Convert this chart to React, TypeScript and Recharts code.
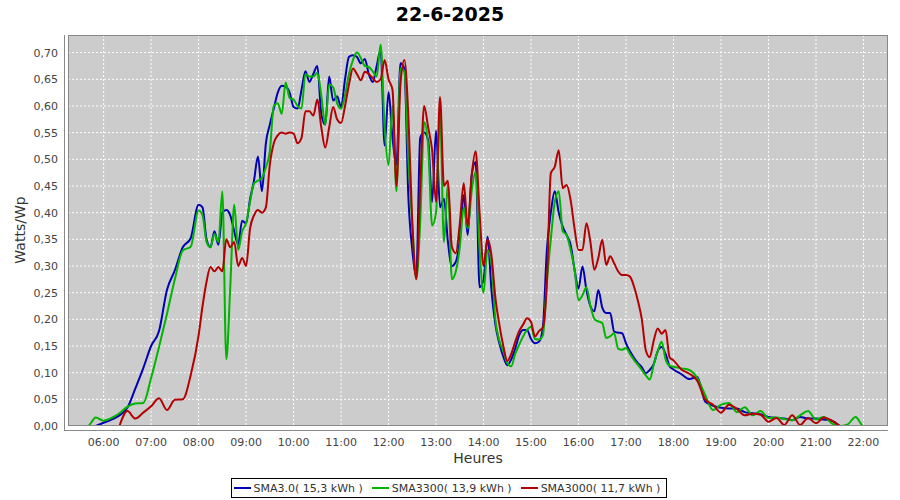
import { LineChart, Line, XAxis, YAxis, CartesianGrid } from "recharts";

// sample times (10 min in the morning/evening, 5 min during the busy part of the day)
const times = [
  "05:30", "05:40", "05:50", "06:00", "06:10", "06:20", "06:30", "06:40", "06:50", "07:00", "07:10", "07:20", "07:30", "07:40", "07:50",
  "08:00", "08:05", "08:10", "08:15", "08:20", "08:25", "08:30", "08:35", "08:40", "08:45", "08:50", "08:55",
  "09:00", "09:05", "09:10", "09:15", "09:20", "09:25", "09:30", "09:35", "09:40", "09:45", "09:50", "09:55",
  "10:00", "10:05", "10:10", "10:15", "10:20", "10:25", "10:30", "10:35", "10:40", "10:45", "10:50", "10:55",
  "11:00", "11:05", "11:10", "11:15", "11:20", "11:25", "11:30", "11:35", "11:40", "11:45", "11:50", "11:55",
  "12:00", "12:05", "12:10", "12:15", "12:20", "12:25", "12:30", "12:35", "12:40", "12:45", "12:50", "12:55",
  "13:00", "13:05", "13:10", "13:15", "13:20", "13:25", "13:30", "13:35", "13:40", "13:45", "13:50", "13:55",
  "14:00", "14:05", "14:10", "14:15", "14:20", "14:25", "14:30", "14:35", "14:40", "14:45", "14:50", "14:55",
  "15:00", "15:05", "15:10", "15:15", "15:20", "15:25", "15:30", "15:35", "15:40", "15:45", "15:50", "15:55",
  "16:00", "16:05", "16:10", "16:15", "16:20", "16:25", "16:30", "16:35", "16:40", "16:45", "16:50", "16:55",
  "17:00", "17:05", "17:10", "17:15", "17:20", "17:25", "17:30", "17:35", "17:40", "17:45", "17:50", "17:55",
  "18:00", "18:10", "18:20", "18:30", "18:40", "18:50",
  "19:00", "19:10", "19:20", "19:30", "19:40", "19:50",
  "20:00", "20:10", "20:20", "20:30", "20:40", "20:50",
  "21:00", "21:10", "21:20", "21:30", "21:40", "21:50",
  "22:00", "22:10",
];

const sma30 = [
  null, null, 0.0, 0.006, 0.012, 0.02, 0.034, 0.07, 0.108, 0.15, 0.178, 0.255, 0.292, 0.335, 0.352,
  0.415, 0.41, 0.35, 0.335, 0.365, 0.34, 0.4, 0.405, 0.395, 0.365, 0.34, 0.385,
  0.38, 0.425, 0.46, 0.505, 0.44, 0.53, 0.565, 0.595, 0.625, 0.638, 0.636, 0.625,
  0.598, 0.595, 0.63, 0.665, 0.645, 0.66, 0.675, 0.585, 0.565, 0.655, 0.61, 0.618,
  0.598, 0.65, 0.692, 0.695, 0.692, 0.68, 0.688, 0.66, 0.645, 0.675, 0.705, 0.526,
  0.626, 0.54, 0.49, 0.68, 0.67, 0.43, 0.33, 0.282, 0.54, 0.55, 0.536, 0.42,
  0.554, 0.41, 0.426, 0.345, 0.3, 0.308, 0.349, 0.433, 0.358, 0.47, 0.495, 0.26,
  0.274, 0.355, 0.255, 0.19, 0.155, 0.13, 0.114, 0.125, 0.145, 0.17, 0.18, 0.18,
  0.163, 0.155, 0.158, 0.185, 0.33, 0.4, 0.44, 0.4, 0.374, 0.358, 0.34, 0.293,
  0.258, 0.299, 0.255, 0.225, 0.215, 0.255, 0.222, 0.212, 0.212, 0.177, 0.175, 0.174,
  0.155, 0.14, 0.128, 0.118, 0.11, 0.099, 0.105, 0.116, 0.14, 0.148, 0.135, 0.112,
  0.106, 0.097, 0.088, 0.092, 0.046, 0.038,
  0.034, 0.033, 0.033, 0.026, 0.024, 0.022,
  0.017, 0.015, 0.014, 0.011, 0.017, 0.014,
  0.014, 0.012, 0.01, 0.0, null, null,
  null, null,
];

const sma3300 = [
  0.0, 0.0, 0.016, 0.01, 0.015, 0.024, 0.036, 0.042, 0.043, 0.09, 0.148, 0.21, 0.275, 0.329, 0.336,
  0.404, 0.395, 0.345, 0.335, 0.36, 0.345, 0.44, 0.125, 0.26, 0.415, 0.33, 0.365,
  0.38, 0.42, 0.455, 0.46, 0.465, 0.485, 0.515, 0.6, 0.605, 0.585, 0.644, 0.615,
  0.612, 0.6, 0.595, 0.66, 0.655, 0.655, 0.662, 0.62, 0.565, 0.64, 0.635, 0.605,
  0.595, 0.62, 0.66, 0.686, 0.7, 0.69, 0.675, 0.673, 0.665, 0.655, 0.715, 0.56,
  0.489, 0.6, 0.44, 0.67, 0.664, 0.5, 0.38, 0.276, 0.382, 0.57, 0.526, 0.376,
  0.4, 0.586, 0.345, 0.455, 0.275, 0.29, 0.335, 0.41, 0.37, 0.44, 0.477, 0.33,
  0.25, 0.33, 0.305, 0.199, 0.16, 0.14, 0.118, 0.112, 0.135, 0.152, 0.168, 0.18,
  0.186, 0.163, 0.162, 0.17, 0.27, 0.35, 0.42, 0.44, 0.365, 0.358, 0.33, 0.293,
  0.236, 0.245, 0.26, 0.225, 0.201, 0.196, 0.193, 0.165, 0.168, 0.174, 0.145, 0.143,
  0.146, 0.135, 0.124, 0.115, 0.105, 0.095, 0.087, 0.115, 0.14, 0.158, 0.125, 0.113,
  0.111, 0.108, 0.105, 0.09, 0.058, 0.03,
  0.04, 0.043, 0.026, 0.035, 0.02, 0.028,
  0.015, 0.016, 0.013, 0.011, 0.02, 0.028,
  0.012, 0.017, 0.005, 0.0, 0.003, 0.017,
  0.0, 0.0,
];

const sma3000 = [
  null, null, null, null, null, 0.0, 0.028, 0.014, 0.025, 0.037, 0.052, 0.03, 0.049, 0.05, 0.095,
  0.17, 0.225, 0.27, 0.298, 0.29, 0.298, 0.29, 0.35, 0.335, 0.345, 0.3, 0.315,
  0.3, 0.37, 0.395, 0.405, 0.4, 0.41, 0.49, 0.53, 0.545, 0.55, 0.548, 0.55,
  0.548, 0.53, 0.54, 0.59, 0.59, 0.582, 0.612, 0.56, 0.522, 0.56, 0.598, 0.575,
  0.568, 0.6, 0.64, 0.67, 0.66, 0.648, 0.664, 0.66, 0.652, 0.645, 0.65, 0.686,
  0.65, 0.63, 0.451, 0.64, 0.686, 0.582, 0.38, 0.275, 0.45, 0.6, 0.56, 0.517,
  0.42, 0.617, 0.45, 0.46, 0.336, 0.324, 0.38, 0.455, 0.374, 0.47, 0.515, 0.4,
  0.3, 0.35, 0.32, 0.24, 0.19, 0.15, 0.122, 0.135, 0.158, 0.178, 0.19, 0.202,
  0.195, 0.168, 0.178, 0.185, 0.267, 0.474, 0.486, 0.517, 0.446, 0.452, 0.424, 0.37,
  0.33, 0.33, 0.38, 0.345, 0.293, 0.315, 0.349, 0.302, 0.318, 0.305, 0.29, 0.283,
  0.283, 0.28, 0.262, 0.235, 0.2, 0.142, 0.129, 0.16, 0.183, 0.173, 0.18, 0.129,
  0.123, 0.106, 0.098, 0.085, 0.05, 0.04,
  0.025, 0.04, 0.032, 0.02, 0.023, 0.021,
  0.008, 0.015, 0.002, 0.02, 0.002, 0.015,
  0.005, 0.016, 0.01, 0.0, null, null,
  null, null,
];

const hourTicks = [
  "06:00", "07:00", "08:00", "09:00", "10:00", "11:00", "12:00", "13:00", "14:00",
  "15:00", "16:00", "17:00", "18:00", "19:00", "20:00", "21:00", "22:00",
];

const valueTicks = [0, 0.05, 0.1, 0.15, 0.2, 0.25, 0.3, 0.35, 0.4, 0.45, 0.5, 0.55, 0.6, 0.65, 0.7];

const series = [
  { key: "b", name: "SMA3.0( 15,3 kWh )", color: "#0000b4" },
  { key: "g", name: "SMA3300( 13,9 kWh )", color: "#00b400" },
  { key: "r", name: "SMA3000( 11,7 kWh )", color: "#b40000" },
];

const toMin = (s: string) => {
  const [h, m] = s.split(":").map(Number);
  return h * 60 + m;
};

const fmtTime = (v: number) => {
  const h = Math.floor(v / 60);
  const m = v % 60;
  return `${String(h).padStart(2, "0")}:${String(m).padStart(2, "0")}`;
};

const data = times.map((t, i) => ({
  t: toMin(t),
  b: sma30[i],
  g: sma3300[i],
  r: sma3000[i],
}));

const font = "'DejaVu Sans', sans-serif";

export default function App() {
  return (
    <div style={{ position: "absolute", left: 0, top: 0, width: 900, height: 500, background: "#fff", fontFamily: font }}>
      <div style={{ position: "absolute", left: 0, top: 2, width: 900, lineHeight: "24px", textAlign: "center", fontSize: 19, fontWeight: "bold", color: "#000" }}>
        22-6-2025
      </div>
      <LineChart width={900} height={500} data={data} margin={{ top: 35, right: 12, bottom: 44, left: 0 }}>
        <CartesianGrid stroke="#ffffff" strokeDasharray="2 2" fill="#cccccc" fillOpacity={1} />
        <XAxis
          dataKey="t"
          type="number"
          domain={[315, 1351]}
          allowDataOverflow
          ticks={hourTicks.map(toMin)}
          tickFormatter={fmtTime}
          height={30}
          axisLine={false}
          tickLine={false}
          tickSize={4}
          tickMargin={8}
          tick={{ fill: "#444", fontSize: 11, fontFamily: font }}
        />
        <YAxis
          type="number"
          domain={[0, 0.733]}
          allowDataOverflow
          ticks={valueTicks}
          tickFormatter={(v: number) => v.toFixed(2).replace(".", ",")}
          width={68}
          axisLine={false}
          tickLine={false}
          tickSize={4}
          tickMargin={6}
          tick={{ fill: "#444", fontSize: 11, fontFamily: font }}
        />
        {series.map((s) => (
          <Line
            key={s.key}
            type="monotone"
            dataKey={s.key}
            name={s.name}
            stroke={s.color}
            strokeWidth={2}
            dot={false}
            connectNulls={false}
            isAnimationActive={false}
          />
        ))}
      </LineChart>
      {/* plot outline and offset axis lines */}
      <div style={{ position: "absolute", left: 68, top: 35, width: 820, height: 391, border: "1px solid #888", boxSizing: "border-box", pointerEvents: "none" }} />
      <svg width={900} height={500} style={{ position: "absolute", left: 0, top: 0, pointerEvents: "none" }}>
        <line x1={64.5} y1={35} x2={64.5} y2={430} stroke="#888" />
        <line x1={64} y1={430.5} x2={888} y2={430.5} stroke="#888" />
      </svg>
      <div style={{ position: "absolute", left: 20, top: 230, transform: "translate(-50%, -50%) rotate(-90deg)", fontSize: 14, color: "#333", whiteSpace: "nowrap" }}>
        Watts/Wp
      </div>
      <div style={{ position: "absolute", left: 378, width: 200, top: 450, textAlign: "center", fontSize: 14, color: "#333" }}>
        Heures
      </div>
      <div style={{ position: "absolute", left: 0, top: 478, width: 900, display: "flex", justifyContent: "center" }}>
        <div style={{ display: "flex", alignItems: "center", border: "1px solid #000", height: 20, boxSizing: "border-box", padding: "0 6px 0 2px", background: "#fff", marginLeft: -2 }}>
          {series.map((s, i) => (
            <span key={s.key} style={{ display: "flex", alignItems: "center", marginLeft: i ? 9 : 0, fontSize: 11, color: "#333" }}>
              <span style={{ width: 17, height: 2, background: s.color, marginRight: 3 }} />
              {s.name}
            </span>
          ))}
        </div>
      </div>
    </div>
  );
}
